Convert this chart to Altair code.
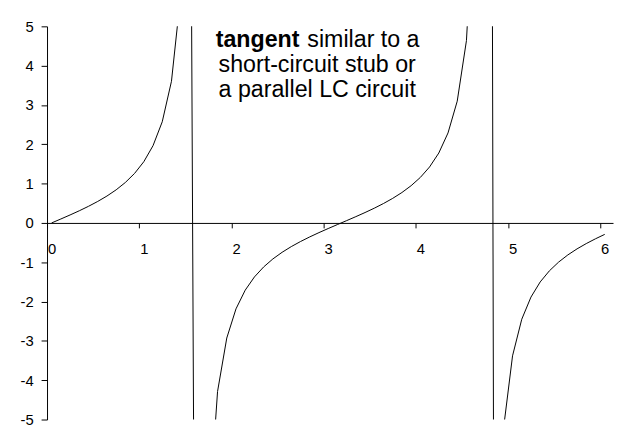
import altair as alt
import pandas as pd

# category positions (x) and tan(x) values as plotted
x_values = [0.0, 0.1, 0.2, 0.3, 0.4, 0.5, 0.6, 0.7, 0.8, 0.9,
            1.0, 1.1, 1.2, 1.3, 1.4, 1.5, 1.6, 1.7, 1.8, 1.9,
            2.0, 2.1, 2.2, 2.3, 2.4, 2.5, 2.6, 2.7, 2.8, 2.9,
            3.0, 3.1, 3.2, 3.3, 3.4, 3.5, 3.6, 3.7, 3.8, 3.9,
            4.0, 4.1, 4.2, 4.3, 4.4, 4.5, 4.6, 4.7, 4.8, 4.9,
            5.0, 5.1, 5.2, 5.3, 5.4, 5.5, 5.6, 5.7, 5.8, 5.9,
            6.0]
tan_values = [0.0, 0.1003, 0.2027, 0.3093, 0.4228, 0.5463, 0.6841, 0.8423, 1.0296, 1.2602,
              1.5574, 1.9648, 2.5722, 3.6021, 5.7979, 14.1014, -34.2325, -7.6966, -4.2863, -2.9271,
              -2.1850, -1.7098, -1.3738, -1.1192, -0.9160, -0.7470, -0.6016, -0.4727, -0.3555, -0.2464,
              -0.1425, -0.0416, 0.0585, 0.1597, 0.2643, 0.3746, 0.4935, 0.6247, 0.7736, 0.9474,
              1.1578, 1.4235, 1.7777, 2.2884, 3.0963, 4.6373, 8.8602, 80.7128, -11.3849, -5.2675,
              -3.3805, -2.4494, -1.8856, -1.5010, -1.2175, -0.9956, -0.8139, -0.6597, -0.5247, -0.4031,
              -0.2910]

x_tick_values = [-0.05, 0.95, 1.95, 2.95, 3.95, 4.95, 5.95]
y_tick_values = [-5, -4, -3, -2, -1, 0, 1, 2, 3, 4, 5]

# annotation text (positions in data units)
note_text = ["tangent", "similar to a", "short-circuit stub or", "a parallel LC circuit"]
note_kind = ["bold", "left", "center", "center"]
note_x = [2.689, 2.774, 2.881, 2.881]
note_y = [4.48, 4.48, 3.827, 3.198]

FONT = "Liberation Sans"

curve = pd.DataFrame({"x": x_values, "y": tan_values, "t": "", "kind": "curve"})
notes = pd.DataFrame({"x": note_x, "y": note_y, "t": note_text, "kind": note_kind})
df = pd.concat([curve, notes], ignore_index=True)

xscale = alt.Scale(domain=[-0.05, 6.09], nice=False, zero=False)
yscale = alt.Scale(domain=[-5, 5], nice=False)

axis_common = dict(grid=False, domainColor="black", domainWidth=1, tickColor="black",
                   tickWidth=1, labelFontSize=15, labelFont=FONT, labelColor="black",
                   labelFlush=False, labelOverlap=False, labelBound=False)

base = alt.Chart(df).encode(
    x=alt.X("x:Q", scale=xscale, title=None,
            axis=alt.Axis(values=x_tick_values,
                          labelExpr="'' + round(datum.value + 0.05)",
                          labelOffset=4.67, offset=-199, orient="bottom",
                          tickSize=5, labelPadding=13.5, **axis_common)),
    y=alt.Y("y:Q", scale=yscale, title=None,
            axis=alt.Axis(values=y_tick_values, labelExpr="'' + datum.value",
                          tickSize=6, labelPadding=8, **axis_common)),
)

line = base.transform_filter("datum.kind == 'curve'").mark_line(
    color="black", strokeWidth=1, clip=True)

bold = base.transform_filter("datum.kind == 'bold'").mark_text(
    align="right", baseline="alphabetic", fontSize=23.5, font=FONT, fontWeight="bold", color="black"
).encode(text="t:N")

plain1 = base.transform_filter("datum.kind == 'left'").mark_text(
    align="left", baseline="alphabetic", fontSize=23.5, font=FONT, color="black"
).encode(text="t:N")

center = base.transform_filter("datum.kind == 'center'").mark_text(
    align="center", baseline="alphabetic", fontSize=23.5, font=FONT, color="black"
).encode(text="t:N")

chart = alt.layer(line, bold, plain1, center).properties(
    width=572.9, height=398,
    autosize=alt.AutoSizeParams(type="none"),
    padding={"left": 39.5, "top": 16, "right": 1, "bottom": 5},
    background="white",
).configure_view(stroke=None)

chart.save("out.html", embed_options={"renderer": "svg", "actions": False})
